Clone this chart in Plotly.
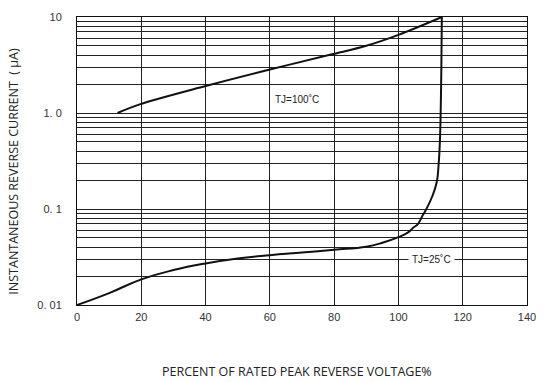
import plotly.graph_objects as go

# ---- data ----
x_tj100 = [12.6, 19.5, 40, 60, 79, 90, 100, 113.5]
y_tj100 = [1.0, 1.23, 1.91, 2.84, 4.06, 5.02, 6.52, 10.0]

x_tj25 = [0, 10, 20, 30, 40, 50, 60, 70, 80, 90, 95, 100, 103, 104.6, 106.1,
          107.4, 108.7, 110.5, 111.9, 112.5, 112.9, 113.2, 113.5]
y_tj25 = [0.01, 0.0133, 0.0185, 0.0231, 0.0271, 0.0305, 0.033, 0.0352, 0.0376,
          0.0405, 0.0445, 0.0509, 0.057, 0.0637, 0.070, 0.084, 0.1, 0.135, 0.19,
          0.29, 0.506, 1.31, 10.0]

x_ticks = [0, 20, 40, 60, 80, 100, 120, 140]
y_ticks = [0.01, 0.1, 1, 10]
y_ticktext = ["0. 01", "0. 1", "1. 0", "10"]
y_minor = [m * 10 ** e for e in (-2, -1, 0) for m in range(2, 10)]

label_100 = "TJ=100˚C"
label_25 = "TJ=25˚C"
x_title = "PERCENT OF RATED PEAK REVERSE VOLTAGE%"
y_title = "INSTANTANEOUS REVERSE CURRENT  ( μA)"

fig = go.Figure()
fig.add_trace(go.Scatter(x=x_tj100, y=y_tj100, mode="lines",
                         line=dict(color="#111", width=2, shape="spline", smoothing=1.0),
                         showlegend=False, hoverinfo="skip"))
fig.add_trace(go.Scatter(x=x_tj25, y=y_tj25, mode="lines",
                         line=dict(color="#111", width=2, shape="spline", smoothing=1.3),
                         showlegend=False, hoverinfo="skip"))

grid_col = "#222"
tick_font = dict(family="Liberation Sans, Arial, sans-serif", size=11, color="#333")

# plot area in pixels: left 77, right 536, top 14, bottom 305
fig.update_layout(
    width=547, height=382,
    margin=dict(l=77, r=11, t=14, b=77),
    paper_bgcolor="white", plot_bgcolor="white",
    xaxis=dict(range=[0, 140], tickmode="array", tickvals=x_ticks,
               showgrid=True, gridcolor=grid_col, gridwidth=1,
               showline=True, mirror=True, linecolor="#111", linewidth=1,
               zeroline=False, ticks="", tickfont=tick_font, ticklabelstandoff=2),
    yaxis=dict(type="log", range=[-2, 1], tickmode="array", tickvals=y_ticks,
               ticktext=y_ticktext,
               showgrid=True, gridcolor=grid_col, gridwidth=1,
               minor=dict(tickmode="array", tickvals=y_minor, showgrid=True,
                          gridcolor=grid_col, gridwidth=1, ticks=""),
               showline=True, mirror=True, linecolor="#111", linewidth=1,
               zeroline=False, ticks="", tickfont=tick_font, ticklabelstandoff=12),
    annotations=[
        dict(x=68.5, y=0.1355, xref="x", yref="y", text=label_100, showarrow=False,
             font=dict(family="Liberation Sans, Arial, sans-serif", size=10, color="#222")),
        dict(x=110.2, y=1.477 - 3, xref="x", yref="y", text=label_25, showarrow=False,
             bgcolor="white", borderpad=3,
             font=dict(family="Liberation Sans, Arial, sans-serif", size=10, color="#222")),
        dict(x=(301.5 - 77) / 459, y=(305 - 372) / 291, xref="paper", yref="paper",
             text=x_title, showarrow=False, xanchor="center", yanchor="middle",
             font=dict(family="Open Sans, sans-serif", size=12.5, color="#222")),
        dict(x=(12 - 77) / 459, y=(305 - 170) / 291, xref="paper", yref="paper",
             text=y_title, showarrow=False, textangle=-90, xanchor="center",
             yanchor="middle",
             font=dict(family="Open Sans, sans-serif", size=12.5, color="#222")),
    ],
)

fig.write_html("out.html", config={"displayModeBar": False},
               post_script="document.body.style.margin='0';")
